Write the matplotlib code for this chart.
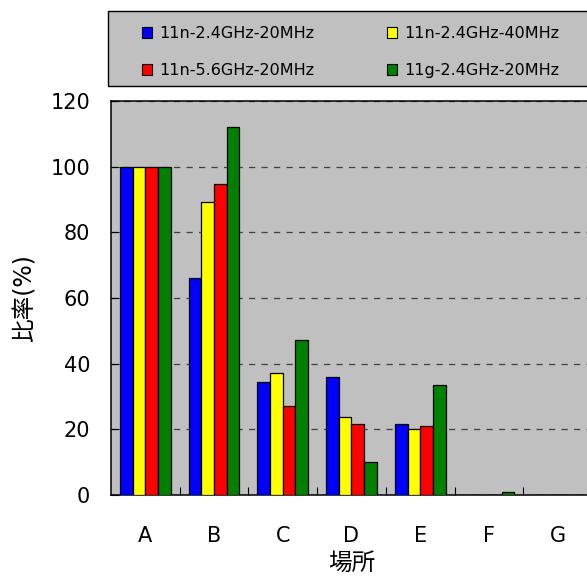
import numpy as np
import matplotlib
matplotlib.use("Agg")
import matplotlib.pyplot as plt
from matplotlib.patches import Rectangle, Patch
from matplotlib.ticker import MultipleLocator

plt.rcParams['font.family'] = ['DejaVu Sans', 'Noto Sans CJK JP']

places = ["A", "B", "C", "D", "E", "F", "G"]
series_names = ["11n-2.4GHz-20MHz", "11n-2.4GHz-40MHz", "11n-5.6GHz-20MHz", "11g-2.4GHz-20MHz"]
n24_20 = [100, 66.0, 34.5, 36.0, 21.5, 0, 0]
n24_40 = [100, 89.2, 37.2, 23.9, 20.2, 0, 0]
n56_20 = [100, 94.6, 27.0, 21.6, 20.9, 0, 0]
g24_20 = [100, 112.1, 47.1, 10.0, 33.4, 0.9, 0]
colors = ["#0000FF", "#FFFF00", "#FF0000", "#008000"]

W, H = 587, 577
fig = plt.figure(figsize=(W / 100, H / 100), dpi=100)

# axes box in pixels: left 111, top 101, bottom 495, right runs past the image edge
ax = fig.add_axes([111 / W, (H - 495) / H, 481 / W, 394 / H])
ax.set_facecolor("#C0C0C0")

x = np.arange(len(places))
bw = 0.185
for i, (vals, c) in enumerate(zip([n24_20, n24_40, n56_20, g24_20], colors)):
    ax.bar(x + (i - 1.5) * bw, vals, bw, color=c, edgecolor="black", linewidth=0.9, zorder=3)

ax.set_xlim(-0.5, len(places) - 0.5)
ax.set_ylim(0, 120)
ax.yaxis.set_major_locator(MultipleLocator(20))
ax.set_xticks(x)
ax.set_xticklabels(places)
ax.set_xticks(x[:-1] + 0.5, minor=True)
ax.tick_params(axis="x", which="major", length=0, pad=22, labelsize=15)
ax.tick_params(axis="x", which="minor", direction="in", length=6, width=0.8)
ax.tick_params(axis="y", direction="in", length=6, width=0.8, pad=15, labelsize=15)

ax.grid(axis="y", color="#404040", linestyle=(0, (5, 5)), linewidth=0.9, zorder=1)
ax.set_axisbelow(True)
for s in ax.spines.values():
    s.set_linewidth(1.1)

ax.set_xlabel("場所", fontsize=17)
ax.xaxis.set_label_coords(0.5, (495 - 563) / 394)
ax.xaxis.label.set_va("center")
ax.set_ylabel("比率(%)", fontsize=17)
ax.yaxis.set_label_coords((25 - 111) / 481, 0.5)
ax.yaxis.label.set_va("center")

# legend frame
fig.patches.append(Rectangle((108 / W, (H - 86) / H), 500 / W, 75.5 / H,
                             transform=fig.transFigure, facecolor="#C0C0C0",
                             edgecolor="black", linewidth=1.0))
handles = [Patch(facecolor=c, edgecolor="black", linewidth=0.8) for c in colors]
# legend fills column-wise; reorder so rows read blue, yellow / red, green
order = [0, 2, 1, 3]
fig.legend([handles[k] for k in order], [series_names[k] for k in order],
           loc="upper left", bbox_to_anchor=(142 / W, 1 - 26 / H),
           ncol=2, frameon=False, fontsize=11.5, borderpad=0, borderaxespad=0,
           handlelength=0.625, handleheight=0.625, handletextpad=0.44,
           columnspacing=4.56, labelspacing=1.39)

fig.savefig("out.png", dpi=100)
